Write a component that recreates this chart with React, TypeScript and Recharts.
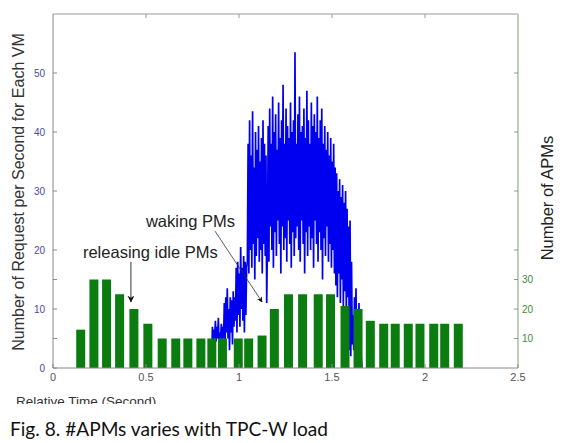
import { ComposedChart, Bar, Line, XAxis, YAxis } from "recharts";

// bar centres (relative time, s) and number of active PMs
const barTimes = [
  0.149, 0.22, 0.288, 0.358, 0.435, 0.51, 0.587, 0.66, 0.725, 0.795,
  0.854, 0.911, 0.996, 1.052, 1.124, 1.19, 1.266, 1.342, 1.426, 1.492,
  1.57, 1.64, 1.706, 1.778, 1.84, 1.91, 1.973, 2.047, 2.106, 2.179,
];
const apmCounts = [
  13, 30, 30, 25, 20, 15, 10, 10, 10, 10,
  10, 10, 10, 10, 11, 20, 25, 25, 25, 25,
  21, 20, 16, 15, 15, 15, 15, 15, 15, 15,
];

// requests per second for each VM, sampled every 4 ms
const rpsStart = 0.853;
const rpsStep = 0.004;
const rpsValues = [
  0.5, 7, 4, 6.5, 5, 8, 4.5, 7, 5, 8.5, 4, 6, 5, 7.5, 4, 7,
  5, 11, 4, 12, 6, 13.5, 5, 10, 3, 12, 6, 11.5, 4, 13, 7, 12,
  8, 17, 6, 18, 9, 16, 7, 20.5, 10, 17, 8, 19, 6, 18, 9, 17,
  18, 38, 16, 42, 20, 36, 17, 43.5, 21, 34, 15, 40, 19, 37, 22, 41, 18, 35, 20, 39, 16, 42, 21, 38, 19, 36, 11,
  22, 41, 18, 44, 24, 38, 20, 46, 17, 40, 23, 43, 19, 37, 25, 45, 21, 39, 16, 42,
  24, 48, 20, 38, 22, 44, 18, 41, 25, 39, 21, 45, 17, 40, 23, 42, 19, 53.5, 22, 38,
  24, 43, 20, 46, 18, 40, 25, 41, 21, 44, 16, 39, 23, 47, 19, 42, 24, 38, 20, 45,
  22, 41, 17, 43, 25, 40, 21, 46, 18, 39, 23, 42, 20, 44, 15, 38, 22, 41, 19, 37,
  24, 40, 18, 36, 21, 39, 17, 35, 20, 38, 16, 34,
  14, 33, 12, 30, 16, 32, 11, 29, 15, 31, 10, 28, 13, 30, 9, 27, 12, 24,
  3, 25, 2, 18, 4,
  9, 3, 12, 5, 13.5, 2, 10, 4, 11, 3, 8, 2, 0,
];

const xTicks = [0, 0.5, 1, 1.5, 2, 2.5];
const rpsTicks = [0, 5, 10, 15, 20, 30, 40, 50];
const rpsLabels = [0, 10, 20, 30, 40, 50];
const apmTicks = [10, 20, 30, 40, 60, 80, 100];
const apmLabels = [10, 20, 30];

const W = 562;
const H = 443;
const plot = { left: 53, right: 518, top: 14, bottom: 368 };
const X_MAX = 2.5;
const RPS_MAX = 60;
const APM_MAX = 120;
const BAR_W = 9;

const barData = barTimes.map((t, i) => ({ t, apm: apmCounts[i] }));
const rpsData = rpsValues.map((v, i) => ({ t: +(rpsStart + i * rpsStep).toFixed(3), rps: v }));

const sx = (t: number) => plot.left + (t / X_MAX) * (plot.right - plot.left);
const sy = (v: number) => plot.bottom - (v / RPS_MAX) * (plot.bottom - plot.top);

const font = "'Liberation Sans', Arial, sans-serif";

// recharts squeezes bars on a dense numeric axis, so widen them around their centre
function WideBar(props: any) {
  const { x, y, width, height } = props;
  if (height == null || height <= 0) return null;
  const cx = x + width / 2;
  return <rect x={cx - BAR_W / 2} y={y} width={BAR_W} height={height} fill="#0b7d10" />;
}

function Overlay() {
  return (
    <svg
      width={W}
      height={H}
      style={{ position: "absolute", left: 0, top: 0, pointerEvents: "none" }}
      fontFamily={font}
    >
      <defs>
        <marker id="head" viewBox="0 0 10 10" refX="9" refY="5" markerWidth="7" markerHeight="7" orient="auto">
          <path d="M0,0 L10,5 L0,10 L3,5 z" fill="#111" />
        </marker>
      </defs>
      <line x1={plot.left} y1={plot.top} x2={plot.right} y2={plot.top} stroke="#999" />
      {xTicks.slice(1, -1).map((t) => (
        <line key={t} x1={sx(t)} y1={plot.top} x2={sx(t)} y2={plot.top + 4} stroke="#999" />
      ))}

      <text transform="translate(24, 192) rotate(-90)" textAnchor="middle" fontSize={16} fill="#333">
        Number of Request per Second for Each VM
      </text>
      <text transform="translate(553, 198) rotate(-90)" textAnchor="middle" fontSize={16.5} fill="#222">
        Number of APMs
      </text>

      <text x={sx(0.978)} y={sy(23.9)} textAnchor="end" fontSize={16.5} fill="#222">
        waking PMs
      </text>
      <text x={sx(0.161)} y={sy(18.64)} fontSize={16.5} fill="#222">
        releasing idle PMs
      </text>
      <line x1={sx(0.419)} y1={sy(18)} x2={sx(0.419)} y2={sy(11.2)} stroke="#333" markerEnd="url(#head)" />
      <line x1={sx(0.871)} y1={sy(23.2)} x2={sx(1.124)} y2={sy(11.2)} stroke="#333" strokeWidth={0.8} markerEnd="url(#head)" />

      <text x={16} y={406} fontSize={13.5} fill="#333">
        Relative Time (Second)
      </text>
      <rect x={0} y={404} width={W} height={H - 404} fill="#fff" />
      <text x={10} y={436} fontSize={20} fill="#111" fontFamily="Lato, sans-serif" textLength={318} lengthAdjust="spacingAndGlyphs">
        Fig. 8. #APMs varies with TPC-W load
      </text>
    </svg>
  );
}

export default function App() {
  return (
    <div style={{ position: "absolute", left: 0, top: 0, width: W, height: H, background: "#fff" }}>
      <ComposedChart
        width={W}
        height={H}
        data={barData}
        margin={{ top: 14, right: 14, bottom: 45, left: 23 }}
        style={{ fontFamily: font }}
      >
        <XAxis
          dataKey="t"
          type="number"
          domain={[0, X_MAX]}
          ticks={xTicks}
          allowDataOverflow
          height={30}
          tickSize={-4}
          tickMargin={9}
          stroke="#888"
          tick={{ fill: "#555", fontSize: 11 }}
          tickFormatter={(v: number) => String(v)}
        />
        <YAxis
          yAxisId="rps"
          domain={[0, RPS_MAX]}
          ticks={rpsTicks}
          width={30}
          tickSize={-4}
          tickMargin={12}
          stroke="#888"
          tick={{ fill: "#4a4a9c", fontSize: 10 }}
          tickFormatter={(v: number) => (rpsLabels.includes(v) ? String(v) : "")}
        />
        <YAxis
          yAxisId="apm"
          orientation="right"
          domain={[0, APM_MAX]}
          ticks={apmTicks}
          width={30}
          tickSize={-4}
          tickMargin={8}
          stroke="#7f9f7f"
          tick={{ fill: "#3a8a3a", fontSize: 10 }}
          tickFormatter={(v: number) => (apmLabels.includes(v) ? String(v) : "")}
        />
        <Line
          yAxisId="rps"
          data={rpsData}
          dataKey="rps"
          stroke="#0000f0"
          strokeWidth={1.7}
          dot={false}
          isAnimationActive={false}
        />
        <Bar
          yAxisId="apm"
          dataKey="apm"
          fill="#0b7d10"
          shape={WideBar}
          isAnimationActive={false}
          zIndex={450}
        />
      </ComposedChart>
      <Overlay />
    </div>
  );
}
